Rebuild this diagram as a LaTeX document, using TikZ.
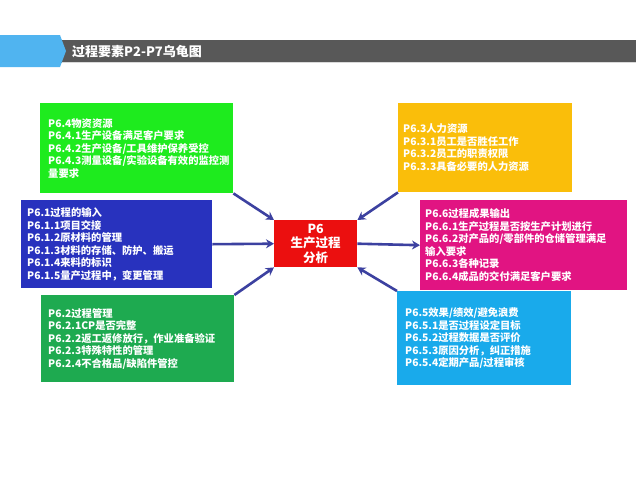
\documentclass[tikz,border=0pt]{standalone}
\usepackage{fontspec}
\setmainfont{Noto Sans CJK SC}
\usetikzlibrary{arrows.meta}
\definecolor{hblue}{RGB}{80,180,240}
\definecolor{hgray}{RGB}{88,88,88}
\definecolor{cgA}{RGB}{30,235,30}
\definecolor{cor}{RGB}{250,190,10}
\definecolor{cbl}{RGB}{40,50,190}
\definecolor{cmg}{RGB}{225,20,130}
\definecolor{cgB}{RGB}{30,170,80}
\definecolor{clb}{RGB}{25,170,235}
\definecolor{cred}{RGB}{235,15,15}
\definecolor{carrow}{RGB}{60,65,160}
\begin{document}
\begin{tikzpicture}[x=1pt,y=-1pt,
  box/.style={anchor=north west, inner ysep=0pt, align=left, text=white,
    font=\bfseries\fontsize{10.3}{12.5}\selectfont},
  conn/.style={draw=carrow, line width=2.6pt, -{Stealth[length=8pt,width=9pt]}}]
\useasboundingbox (0,0) rectangle (640,480);
\fill[white] (0,0) rectangle (640,480);
% header
\fill[hgray] (60,40) rectangle (636,63);
\draw[white!70!gray, line width=0.6pt] (62,62.5) -- (636,62.5);
\fill[hblue] (0,35) -- (60,35) -- (66,51) -- (60,67) -- (0,67) -- cycle;
\node[anchor=west, text=white, inner sep=0pt, font=\bfseries\fontsize{13}{13}\selectfont] (title) at (72,51.5) {过程要素P2-P7乌龟图};
% boxes
\node[box, fill=cgA, minimum width=193pt, minimum height=90pt, text width=177pt, inner xsep=8pt] (g1) at (40,103)
 {P6.4物资资源\\P6.4.1生产设备满足客户要求\\P6.4.2生产设备/工具维护保养受控\\P6.4.3测量设备/实验设备有效的监控测\\量要求};
\node[box, fill=cor, minimum width=174pt, minimum height=89pt, text width=164pt, inner xsep=5pt] (o1) at (398,103)
 {P6.3人力资源\\P6.3.1员工是否胜任工作\\P6.3.2员工的职责权限\\P6.3.3具备必要的人力资源};
\node[box, fill=cbl, minimum width=191pt, minimum height=88pt, text width=179pt, inner xsep=6pt] (b1) at (21,200)
 {P6.1过程的输入\\P6.1.1项目交接\\P6.1.2原材料的管理\\P6.1.3材料的存储、防护、搬运\\P6.1.4来料的标识\\P6.1.5量产过程中，变更管理};
\node[box, fill=cmg, minimum width=207pt, minimum height=90pt, text width=197pt, inner xsep=5pt] (m1) at (420,200)
 {P6.6过程成果输出\\P6.6.1生产过程是否按生产计划进行\\P6.6.2对产品的/零部件的仓储管理满足\\输入要求\\P6.6.3各种记录\\P6.6.4成品的交付满足客户要求};
\node[box, fill=cgB, minimum width=193pt, minimum height=87pt, text width=179pt, inner xsep=7pt] (g2) at (41,295)
 {P6.2过程管理\\P6.2.1CP是否完整\\P6.2.2返工返修放行，作业准备验证\\P6.2.3特殊特性的管理\\P6.2.4不合格品/缺陷件管控};
\node[box, fill=clb, minimum width=174pt, minimum height=94pt, text width=158pt, inner xsep=8pt] (l1) at (397,291)
 {P6.5效果/绩效/避免浪费\\P6.5.1是否过程设定目标\\P6.5.2过程数据是否评价\\P6.5.3原因分析，纠正措施\\P6.5.4定期产品/过程审核};
\node[fill=cred, anchor=north west, minimum width=83pt, minimum height=47pt, inner sep=0pt, align=center, text=white,
  font=\bfseries\fontsize{12.5}{14.5}\selectfont] (red) at (274,220) {P6\\生产过程\\分析};
% connectors
\draw[conn] (g1.south east) -- (red.north west);
\draw[conn] (o1.south west) -- (red.north east);
\draw[conn] (b1.east) -- (red.west);
\draw[conn] (red.east) -- (m1.west);
\draw[conn] (g2.north east) -- (red.south west);
\draw[conn] (l1.north west) -- (red.south east);
\end{tikzpicture}
\end{document}
